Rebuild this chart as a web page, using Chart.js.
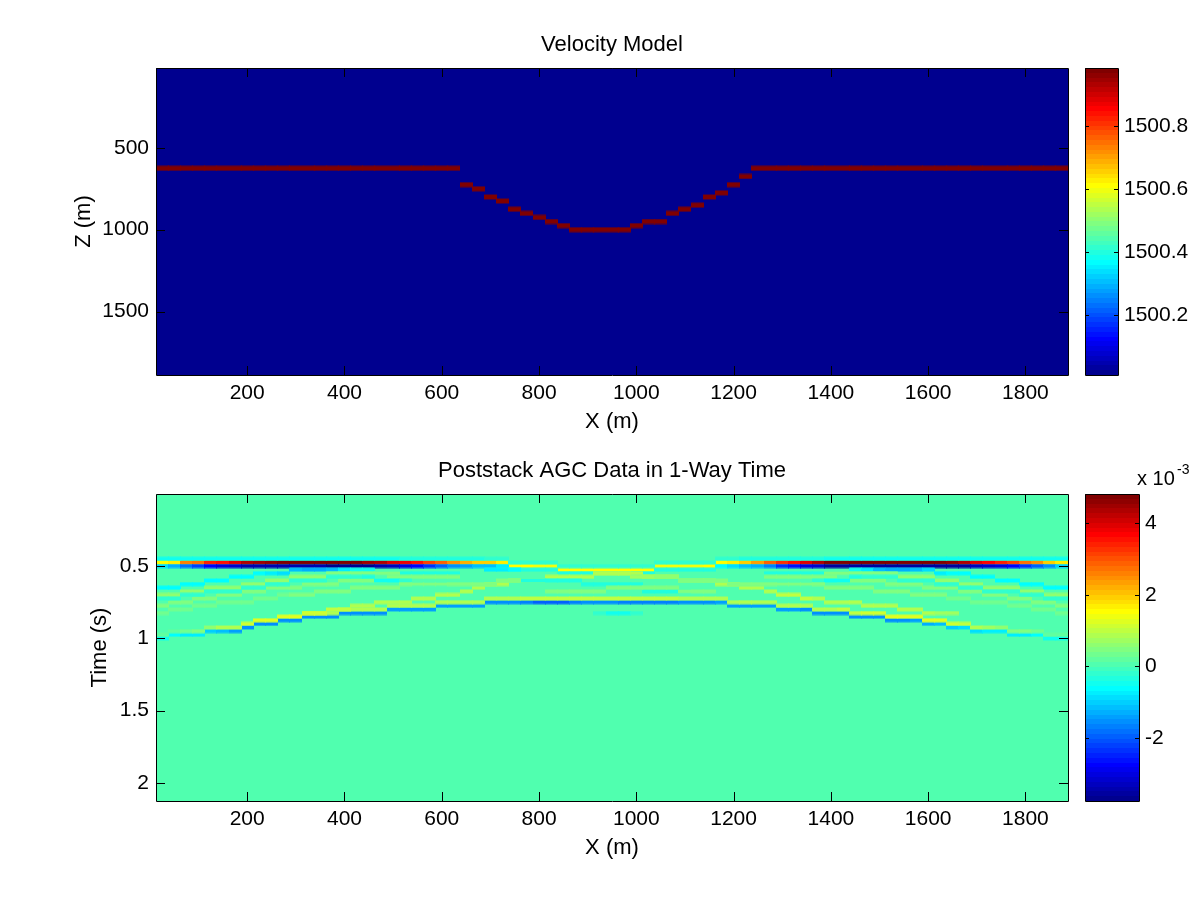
<!DOCTYPE html>
<html>
<head>
<meta charset="utf-8">
<title>Velocity Model</title>
<script src="https://cdn.jsdelivr.net/npm/chart.js@4"></script>
<style>
  body { margin: 0; background: #fff; }
  canvas { position: absolute; }
</style>
</head>
<body>
<canvas id="velChart" style="left:50px;top:20px" width="1030" height="420"></canvas>
<canvas id="velBar" style="left:1080px;top:60px" width="115" height="325"></canvas>
<canvas id="agcChart" style="left:50px;top:446px" width="1030" height="420"></canvas>
<canvas id="agcBar" style="left:1080px;top:460px" width="115" height="350"></canvas>
<script>
// axes
const xRange = [12.5, 1887.5];
const zRange = [12.5, 1887.5];
const tRange = [0.002, 2.125];
const xTicks = [200, 400, 600, 800, 1000, 1200, 1400, 1600, 1800];
const zTicks = [500, 1000, 1500];
const tTicks = [0.5, 1, 1.5, 2];
const velBarRange = [1500.0086, 1500.986];
const velBarTicks = [1500.2, 1500.4, 1500.6, 1500.8];
const agcBarRange = [-3.77, 4.82];
const agcBarTicks = [-2, 0, 2, 4];

// velocity model: reflector depth per grid column (x = 25 m * column)
const reflectorX = [25, 50, 75, 100, 125, 150, 175, 200, 225, 250, 275, 300, 325, 350, 375, 400, 425, 450, 475, 500, 525, 550, 575, 600, 625,
  650, 675, 700, 725, 750, 775, 800, 825, 850, 875, 900, 925, 950, 975, 1000, 1025, 1050, 1075, 1100, 1125, 1150, 1175, 1200, 1225,
  1250, 1275, 1300, 1325, 1350, 1375, 1400, 1425, 1450, 1475, 1500, 1525, 1550, 1575, 1600, 1625, 1650, 1675, 1700, 1725, 1750, 1775, 1800, 1825, 1850, 1875];
const reflectorZ = [625, 625, 625, 625, 625, 625, 625, 625, 625, 625, 625, 625, 625, 625, 625, 625, 625, 625, 625, 625, 625, 625, 625, 625, 625,
  725, 750, 800, 825, 875, 900, 925, 950, 975, 1000, 1000, 1000, 1000, 1000, 975, 950, 950, 900, 875, 850, 800, 775, 725, 675,
  625, 625, 625, 625, 625, 625, 625, 625, 625, 625, 625, 625, 625, 625, 625, 625, 625, 625, 625, 625, 625, 625, 625, 625, 625, 625];
const velBackground = 1500.0086;
const velReflector = 1500.986;

// AGC data: each event is a start column, a time row per column (t = 0.025 s * row) and an amplitude (x 10^-3)
const agcBackground = 0.05;

const directRows = [19, 19, 19, 19, 19, 19, 19, 19, 19, 19, 19, 19, 19, 19, 19, 19, 19, 19, 19, 19, 19, 19, 19, 19, 19, 19, 19, 19, 19,
  20, 20, 20, 20, 21, 21, 21, 21, 21, 21, 21, 21, 20, 20, 20, 20, 20,
  19, 19, 19, 19, 19, 19, 19, 19, 19, 19, 19, 19, 19, 19, 19, 19, 19, 19, 19, 19, 19, 19, 19, 19, 19, 19, 19, 19, 19];
const directAmps = [1.5, 1.7, 2.6, 2.8, 3.4, 3.6, 4.0, 4.3, 4.5, 4.6, 4.7, 4.7, 4.7, 4.7, 4.7, 4.7, 4.7, 4.5, 4.3, 4.0, 3.8, 3.5, 3.2, 2.9, 2.5, 2.2, 2.0, 1.9, 1.7,
  1.5, 1.5, 1.4, 1.4, 1.5, 1.5, 1.5, 1.5, 1.5, 1.5, 1.5, 1.5, 1.4, 1.4, 1.4, 1.4, 1.5,
  1.5, 1.7, 2.0, 2.4, 2.9, 3.3, 3.6, 3.9, 4.3, 4.7, 4.7, 4.7, 4.7, 4.7, 4.7, 4.7, 4.7, 4.7, 4.7, 4.6, 4.3, 4.0, 3.7, 3.4, 3.1, 2.8, 2.5, 2.0, 1.6];

const underRows = [20, 20, 20, 20, 20, 20, 20, 20, 20, 20, 20, 20, 20, 20, 20, 20, 20, 20, 20, 20, 20, 20, 20, 20, 20, 20, 20, 20, 20,
  21, 21, 21, 21, 22, 22, 22, 22, 22, 22, 22, 22, 21, 21, 21, 21, 21,
  20, 20, 20, 20, 20, 20, 20, 20, 20, 20, 20, 20, 20, 20, 20, 20, 20, 20, 20, 20, 20, 20, 20, 20, 20, 20, 20, 20, 20];
const underAmps = [-0.9, -1.3, -1.8, -2.2, -2.8, -3.0, -3.2, -3.5, -3.5, -3.5, -3.5, -3.5, -3.5, -3.5, -3.7, -3.7, -3.7, -3.7, -3.5, -3.3, -3.0, -2.8, -2.4, -2.0, -1.6, -1.4, -1.2, -1.1, -0.8,
  -0.4, -0.4, -0.3, -0.3, -0.3, -0.3, -0.3, -0.3, -0.3, -0.3, -0.3, -0.3, -0.3, -0.3, -0.3, -0.3, -0.4,
  -0.6, -0.9, -1.1, -1.3, -1.7, -2.3, -2.6, -3.0, -3.2, -3.6, -3.6, -3.6, -3.6, -3.6, -3.6, -3.6, -3.6, -3.6, -3.6, -3.6, -3.6, -3.3, -3.2, -3.0, -2.8, -2.4, -2.0, -1.6, -1.0];

const aboveRows = [18, 18, 18, 18, 18, 18, 18, 18, 18, 18, 18, 18, 18, 18, 18, 18, 18, 18, 18, 18, 18, 18, 18, 18, 18, 18, 18, 18, 18,
  19, 19, 19, 19, 20, 20, 20, 20, 20, 20, 20, 20, 19, 19, 19, 19, 19,
  18, 18, 18, 18, 18, 18, 18, 18, 18, 18, 18, 18, 18, 18, 18, 18, 18, 18, 18, 18, 18, 18, 18, 18, 18, 18, 18, 18, 18];
const aboveAmps = [-0.45, -0.45, -0.45, -0.45, -0.45, -0.45, -0.45, -0.45, -0.45, -0.45, -0.45, -0.45, -0.45, -0.45, -0.45, -0.45, -0.45, -0.45, -0.45, -0.45, -0.4, -0.4, -0.4, -0.35, -0.35, -0.3, -0.3, -0.25, -0.25,
  -0.2, -0.2, -0.2, -0.2, -0.2, -0.2, -0.2, -0.2, -0.2, -0.2, -0.2, -0.2, -0.2, -0.2, -0.2, -0.2, -0.2,
  -0.25, -0.25, -0.3, -0.3, -0.35, -0.35, -0.4, -0.4, -0.4, -0.45, -0.45, -0.45, -0.45, -0.45, -0.45, -0.45, -0.45, -0.45, -0.45, -0.45, -0.45, -0.45, -0.45, -0.45, -0.45, -0.45, -0.45, -0.45, -0.45];

const mainRows = [40, 39, 39, 39, 38, 38, 38, 37, 36, 36, 35, 35, 34, 34, 34, 33, 33, 33, 33, 32, 32, 32, 32, 31, 31, 31, 31, 30, 30, 30,
  30, 30, 30, 30, 30, 30, 30, 30, 30, 30, 30, 30, 30, 30, 30, 30, 30, 31, 31, 31, 31, 32, 32, 32, 33, 33, 33, 34, 34, 34,
  35, 35, 35, 36, 36, 37, 37, 38, 38, 38, 39, 39, 39, 40, 40];
const mainAmps = [-0.5, -0.6, -0.7, -0.8, -1.0, -1.2, -1.4, -1.5, -1.5, -1.5, -1.5, -1.5, -1.5, -1.5, -1.5, -1.5, -1.5, -1.5, -1.5, -1.4, -1.4, -1.4, -1.4, -1.4, -1.4, -1.4, -1.4, -1.5, -1.5, -1.6,
  -1.7, -2.0, -2.0, -2.0, -1.7, -1.6, -1.6, -1.6, -1.7, -1.7, -1.7, -1.7, -1.7, -1.5, -1.5, -1.5, -1.4, -1.4, -1.4, -1.4, -1.4, -1.4, -1.4, -1.5, -1.5, -1.5, -1.5, -1.5, -1.5, -1.5,
  -1.5, -1.5, -1.4, -1.3, -1.2, -1.0, -0.9, -0.9, -0.8, -0.8, -0.7, -0.7, -0.6, -0.5, -0.5];

const mainUpperRows = [39, 38, 38, 38, 37, 37, 37, 36, 35, 35, 34, 34, 33, 33, 33, 32, 32, 32, 32, 31, 31, 31, 31, 30, 30, 30, 30, 29, 29, 29,
  29, 29, 29, 29, 29, 29, 29, 29, 29, 29, 29, 29, 29, 29, 29, 29, 29, 30, 30, 30, 30, 31, 31, 31, 32, 32, 32, 33, 33, 33,
  34, 34, 34, 35, 35, 36, 36, 37, 37, 37, 38, 38, 38, 39, 39];
const mainUpperAmps = [0.2, 0.2, 0.3, 0.4, 0.6, 0.8, 0.9, 1.1, 1.2, 1.3, 1.3, 1.3, 1.2, 1.1, 0.9, 0.8, 0.8, 0.8, 0.8, 0.8, 0.8, 0.8, 0.8, 0.8, 0.8, 0.8, 0.8, 0.8, 0.8, 0.9,
  1.0, 1.0, 1.0, 1.0, 1.0, 1.0, 1.0, 1.0, 1.0, 1.0, 1.0, 1.0, 1.0, 0.9, 0.8, 0.8, 0.8, 0.8, 0.8, 0.8, 0.8, 0.8, 0.8, 0.8, 0.9, 0.9, 1.0, 1.0, 1.1, 1.1,
  1.2, 1.2, 1.3, 1.2, 1.2, 1.1, 1.0, 0.8, 0.7, 0.6, 0.5, 0.4, 0.3, 0.2, 0.2];

const riseLeftStart = 13;
const riseLeftRows = [33, 33, 32, 32, 31, 31, 30, 30, 30, 29, 29, 28, 28, 27, 26, 25, 25, 24, 24, 24, 23, 23, 23, 23, 22, 22, 22, 23, 23, 23, 23, 24, 24];
const riseLeftAmps = [1.1, 1.1, 1.0, 1.0, 0.9, 0.9, 0.9, 0.9, 0.9, 0.9, 0.9, 0.9, 0.9, 0.8, 0.8, 0.8, 0.8, 0.8, 0.8, 0.8, 0.8, 0.9, 0.9, 0.9, 0.9, 0.9, 0.8, 0.7, 0.7, 0.6, 0.6, 0.5, 0.5];
const riseRightStart = 37;
const riseRightRows = [22, 22, 22, 22, 23, 23, 23, 24, 24, 24, 25, 25, 26, 26, 27, 28, 28, 29, 29, 30, 30, 30, 31, 31, 31, 32, 32, 33, 33, 33];
const riseRightAmps = [0.8, 0.8, 0.8, 0.8, 0.9, 0.9, 0.9, 0.9, 0.9, 0.9, 0.8, 0.8, 0.8, 0.8, 0.9, 1.0, 1.0, 1.0, 0.9, 0.9, 0.8, 0.8, 0.8, 0.8, 0.8, 0.8, 0.8, 0.8, 0.7, 0.7];

const cyanLeftStart = 1;
const cyanLeftRows = [26, 26, 25, 25, 24, 24, 23, 23, 22, 22, 22, 21, 21, 21, 21, 21, 21, 21, 22, 22, 22, 22, 22, 22, 22];
const cyanLeftAmps = [-0.6, -0.6, -0.6, -0.6, -0.6, -0.6, -0.6, -0.6, -0.6, -0.7, -0.9, -1.2, -1.3, -1.3, -1.2, -0.7, -0.5, -0.45, -0.45, -0.4, -0.4, -0.4, -0.3, -0.3, -0.3];
const cyanRightStart = 51;
const cyanRightRows = [22, 22, 22, 22, 22, 22, 22, 21, 21, 21, 21, 21, 21, 21, 22, 22, 22, 23, 23, 24, 24, 25, 25, 26, 26];
const cyanRightAmps = [-0.3, -0.3, -0.3, -0.4, -0.4, -0.45, -0.45, -0.5, -0.7, -1.2, -1.3, -1.3, -1.2, -0.9, -0.7, -0.6, -0.6, -0.6, -0.6, -0.6, -0.6, -0.6, -0.6, -0.6, -0.6];

const bandBLeftRows = [28, 28, 27, 27, 26, 26, 26, 25, 25, 24, 24, 23, 23, 23, 22, 22, 22, 22, 22, 22];
const bandBLeftAmps = [0.6, 0.6, 0.6, 0.6, 0.6, 0.6, 0.6, 0.6, 0.6, 0.6, 0.6, 0.6, 0.6, 0.6, 0.5, 0.5, 0.5, 0.5, 0.4, 0.4];
const bandBRightStart = 56;
const bandBRightRows = [22, 22, 22, 22, 22, 22, 23, 23, 23, 24, 24, 25, 25, 26, 26, 26, 27, 27, 28, 28];
const bandBRightAmps = [0.4, 0.4, 0.5, 0.5, 0.5, 0.5, 0.6, 0.6, 0.6, 0.6, 0.6, 0.6, 0.6, 0.6, 0.6, 0.6, 0.6, 0.6, 0.6, 0.6];

const bandCLeftRows = [31, 30, 30, 29, 29, 28, 28, 27, 27, 26, 26, 26, 25, 25, 25, 24, 24, 24, 24, 23, 23, 23, 23, 23, 23];
const bandCLeftAmps = [0.5, 0.5, 0.5, 0.5, 0.5, 0.5, 0.5, 0.5, 0.5, 0.5, 0.5, 0.5, 0.5, 0.5, 0.5, 0.5, 0.5, 0.5, 0.5, 0.4, 0.4, 0.4, 0.4, 0.4, 0.4];
const bandCRightStart = 51;
const bandCRightRows = [23, 23, 23, 23, 23, 23, 24, 24, 24, 24, 25, 25, 25, 26, 26, 26, 27, 27, 28, 28, 29, 29, 30, 30, 31];
const bandCRightAmps = [0.4, 0.4, 0.4, 0.4, 0.4, 0.4, 0.5, 0.5, 0.5, 0.5, 0.5, 0.5, 0.5, 0.5, 0.5, 0.5, 0.5, 0.5, 0.5, 0.5, 0.5, 0.5, 0.5, 0.5, 0.5];

const bandDLeftRows = [33, 32, 32, 31, 31, 30, 30, 30, 29, 29, 28, 28, 28, 27, 27, 27, 26, 26, 26, 26, 25, 25, 25, 25, 25, 25, 25, 25, 24, 24];
const bandDLeftAmps = [0.3, 0.3, 0.3, 0.3, 0.3, 0.3, 0.3, 0.3, 0.3, 0.3, 0.3, 0.4, 0.4, 0.4, 0.5, 0.5, 0.5, 0.5, 0.5, 0.5, 0.5, 0.4, 0.4, 0.4, 0.4, 0.4, 0.4, 0.4, 0.4, 0.4];
const bandDRightStart = 46;
const bandDRightRows = [24, 24, 25, 25, 25, 25, 25, 25, 25, 25, 26, 26, 26, 26, 27, 27, 27, 28, 28, 28, 29, 29, 30, 30, 30, 31, 31, 32, 32, 33];
const bandDRightAmps = [0.4, 0.4, 0.4, 0.4, 0.4, 0.4, 0.4, 0.4, 0.4, 0.4, 0.5, 0.5, 0.5, 0.5, 0.5, 0.5, 0.5, 0.4, 0.4, 0.4, 0.3, 0.3, 0.3, 0.3, 0.3, 0.3, 0.3, 0.3, 0.3, 0.3];

const faintCyanLeftRows = [29, 29, 28, 28, 27, 27, 27, 26, 26, 25, 25, 24, 24, 24, 23, 23, 23, 23, 24, 24, 24, 25, 25, 25];
const faintCyanLeftAmps = [-0.25, -0.25, -0.25, -0.25, -0.25, -0.25, -0.2, -0.2, -0.2, -0.2, -0.2, -0.2, -0.2, -0.2, -0.2, -0.2, -0.25, -0.3, -0.5, -0.5, -0.25, -0.5, -0.5, -0.5];
const faintCyanRightStart = 52;
const faintCyanRightRows = [25, 25, 25, 24, 24, 24, 23, 23, 23, 23, 24, 24, 24, 25, 25, 26, 26, 27, 27, 27, 28, 28, 29, 29];
const faintCyanRightAmps = [-0.5, -0.5, -0.5, -0.25, -0.5, -0.5, -0.3, -0.25, -0.2, -0.2, -0.2, -0.2, -0.2, -0.2, -0.2, -0.2, -0.2, -0.2, -0.25, -0.25, -0.25, -0.25, -0.25, -0.25];

const centerStart = 28;
const centerBlueRows = [21, 21, 21, 24, 24, 24, 24, 24, 25, 25, 25, 25, 25, 27, 27, 27, 27];
const centerBlueAmps = [-0.8, -0.7, -0.6, -0.3, -0.3, -0.4, -0.4, -0.4, -0.3, -0.3, -0.3, -0.3, -0.3, -0.3, -0.3, -0.3, -0.3];
const centerYellowStart = 33;
const centerYellowRows = [27, 27, 27, 27, 27, 26, 26, 26, 26, 26, 26, 27, 27, 27];
const centerYellowAmps = [0.5, 0.5, 0.5, 0.5, 0.5, 0.4, 0.4, 0.4, 0.4, 0.4, 0.4, 0.5, 0.5, 0.5];
const lowerCyanStart = 37;
const lowerCyanRows = [33, 33, 33, 33];
const lowerCyanAmps = [-0.2, -0.5, -0.5, -0.2];

// jet colour map, 64 levels like the original figure
function jetChannel(v) { return Math.round(255 * Math.max(0, Math.min(1, v))); }
function jetLevel(level) {
  const v = (level + 1) / 64;
  return 'rgb(' + jetChannel(Math.min(4 * v - 1.5, -4 * v + 4.5)) + ',' +
    jetChannel(Math.min(4 * v - 0.5, -4 * v + 3.5)) + ',' +
    jetChannel(Math.min(4 * v + 0.5, -4 * v + 2.5)) + ')';
}
function jetColor(value, range) {
  const f = (value - range[0]) / (range[1] - range[0]);
  return jetLevel(Math.max(0, Math.min(63, Math.floor(f * 64))));
}

// one small canvas per colour, used as the point image of a grid cell.
// the outer rows are half transparent so cells blend a bit, as in the jpeg original
const cellCache = {};
function cellImage(color, w, h) {
  const key = color + w + 'x' + h;
  if (!cellCache[key]) {
    const c = document.createElement('canvas');
    c.width = w;
    c.height = h;
    const g = c.getContext('2d');
    g.fillStyle = color;
    g.globalAlpha = 0.45;
    g.fillRect(0, 0, w, h);
    g.globalAlpha = 1;
    g.fillRect(0, 1, w, h - 2);
    cellCache[key] = c;
  }
  return cellCache[key];
}

function cellDataset(points, range, w, h) {
  return {
    data: points,
    showLine: false,
    pointRadius: 6,
    pointHoverRadius: 6,
    pointBorderWidth: 0,
    pointStyle: ctx => cellImage(jetColor(ctx.raw ? ctx.raw.v : range[0], range), w, h)
  };
}

function eventDataset(start, rows, amps) {
  const points = rows.map((row, i) => ({ x: 25 * (start + i), y: 0.025 * row, v: amps[i] }));
  return cellDataset(points, agcBarRange, 13, 5);
}

// panel fill, box and inward ticks like the original
const panelPlugin = {
  id: 'panel',
  beforeDatasetsDraw(chart, args, opts) {
    const a = chart.chartArea;
    if (opts.fill) {
      chart.ctx.fillStyle = opts.fill;
      chart.ctx.fillRect(a.left, a.top, a.right - a.left, a.bottom - a.top);
    }
  },
  afterDraw(chart, args, opts) {
    const a = chart.chartArea;
    const c = chart.ctx;
    const len = opts.tickLength;
    c.save();
    c.strokeStyle = '#000';
    c.lineWidth = 1;
    c.beginPath();
    Object.values(chart.scales).forEach(s => {
      if (!s.options.display) return;
      s.ticks.forEach(t => {
        const p = Math.round(s.getPixelForValue(t.value)) + 0.5;
        if (s.isHorizontal()) {
          c.moveTo(p, a.bottom); c.lineTo(p, a.bottom - len);
          c.moveTo(p, a.top); c.lineTo(p, a.top + len);
        } else {
          c.moveTo(a.left, p); c.lineTo(a.left + len, p);
          c.moveTo(a.right, p); c.lineTo(a.right - len, p);
        }
      });
    });
    c.rect(a.left + 0.5, a.top + 0.5, a.right - a.left, a.bottom - a.top);
    c.stroke();
    if (opts.exponent) {
      c.fillStyle = '#000';
      c.textAlign = 'left';
      c.textBaseline = 'alphabetic';
      c.font = '20px "Liberation Sans"';
      c.fillText('x 10', 57, 25);
      c.font = '14px "Liberation Sans"';
      c.fillText('-3', 97, 14);
    }
    c.restore();
  }
};
Chart.register(panelPlugin);

const tickFont = { family: 'Liberation Sans', size: 21 };
const titleFont = { family: 'Liberation Sans', size: 22, weight: 'normal' };
Chart.defaults.color = '#000';
Chart.defaults.animation = false;

function fixedTicks(values) {
  return scale => { scale.ticks = values.map(v => ({ value: v, label: String(v) })); };
}

function heatChart(id, title, yTitle, yRange, yTicks, yTitlePad, datasets, fill) {
  return new Chart(document.getElementById(id), {
    type: 'scatter',
    data: { datasets: datasets },
    options: {
      responsive: false,
      events: [],
      layout: { padding: { top: 0, right: 12, bottom: 0, left: 0 } },
      plugins: {
        legend: { display: false },
        tooltip: { enabled: false },
        title: { display: true, fullSize: false, text: title, font: titleFont, padding: { top: 11.8, bottom: 9.8 } },
        panel: { fill: fill, tickLength: 9 }
      },
      scales: {
        x: {
          type: 'linear', min: xRange[0], max: xRange[1],
          grid: { display: false, drawTicks: false }, border: { display: false },
          ticks: { font: tickFont, padding: 6, maxRotation: 0, autoSkip: false, includeBounds: false, callback: v => String(v) },
          afterBuildTicks: fixedTicks(xTicks),
          afterFit: s => { s.height = 65; s.paddingLeft = 0; s.paddingRight = 0; },
          title: { display: true, text: 'X (m)', font: titleFont, padding: { top: 0, bottom: 5 } }
        },
        y: {
          type: 'linear', reverse: true, min: yRange[0], max: yRange[1],
          grid: { display: false, drawTicks: false }, border: { display: false },
          ticks: { font: tickFont, padding: 7, autoSkip: false, includeBounds: false, callback: v => String(v) },
          afterBuildTicks: fixedTicks(yTicks),
          afterFit: s => { s.width = 106; s.paddingTop = 0; s.paddingBottom = 0; },
          title: { display: true, text: yTitle, font: titleFont, padding: { top: yTitlePad, bottom: 0 } }
        }
      }
    }
  });
}

function barChart(id, range, ticks, padTop, padBottom, barWidth, exponent) {
  return new Chart(document.getElementById(id), {
    type: 'bar',
    data: {
      labels: [''],
      datasets: [{
        data: [range],
        barPercentage: 1,
        categoryPercentage: 1,
        backgroundColor: ctx => {
          const a = ctx.chart.chartArea;
          if (!a) return '#000';
          const g = ctx.chart.ctx.createLinearGradient(0, a.bottom, 0, a.top);
          for (let i = 0; i < 64; i++) {
            g.addColorStop(i / 64, jetLevel(i));
            g.addColorStop((i + 1) / 64, jetLevel(i));
          }
          return g;
        }
      }]
    },
    options: {
      responsive: false,
      events: [],
      layout: { padding: { top: padTop, right: 0, bottom: padBottom, left: 5 } },
      plugins: {
        legend: { display: false },
        title: { display: false },
        tooltip: { enabled: false },
        panel: { tickLength: 4, exponent: exponent }
      },
      scales: {
        x: { display: false },
        y: {
          position: 'right', min: range[0], max: range[1],
          grid: { display: false, drawTicks: false }, border: { display: false },
          ticks: { font: tickFont, padding: 6, autoSkip: false, includeBounds: false, callback: v => String(v) },
          afterBuildTicks: fixedTicks(ticks),
          afterFit: s => { s.width = 115 - 5 - barWidth; s.paddingTop = 0; s.paddingBottom = 0; }
        }
      }
    }
  });
}

const reflectorPoints = reflectorX.map((x, i) => ({ x: x, y: reflectorZ[i], v: velReflector }));
heatChart('velChart', 'Velocity Model', 'Z (m)', zRange, zTicks, 21,
  [cellDataset(reflectorPoints, velBarRange, 13, 6)], jetColor(velBackground, velBarRange));

// later datasets paint over earlier ones, so faint events go first
heatChart('agcChart', 'Poststack AGC Data in 1-Way Time', 'Time (s)', tRange, tTicks, 37, [
  eventDataset(1, bandDLeftRows, bandDLeftAmps),
  eventDataset(bandDRightStart, bandDRightRows, bandDRightAmps),
  eventDataset(1, faintCyanLeftRows, faintCyanLeftAmps),
  eventDataset(faintCyanRightStart, faintCyanRightRows, faintCyanRightAmps),
  eventDataset(1, bandCLeftRows, bandCLeftAmps),
  eventDataset(bandCRightStart, bandCRightRows, bandCRightAmps),
  eventDataset(1, bandBLeftRows, bandBLeftAmps),
  eventDataset(bandBRightStart, bandBRightRows, bandBRightAmps),
  eventDataset(centerYellowStart, centerYellowRows, centerYellowAmps),
  eventDataset(centerStart, centerBlueRows, centerBlueAmps),
  eventDataset(lowerCyanStart, lowerCyanRows, lowerCyanAmps),
  eventDataset(cyanLeftStart, cyanLeftRows, cyanLeftAmps),
  eventDataset(cyanRightStart, cyanRightRows, cyanRightAmps),
  eventDataset(riseLeftStart, riseLeftRows, riseLeftAmps),
  eventDataset(riseRightStart, riseRightRows, riseRightAmps),
  eventDataset(1, mainUpperRows, mainUpperAmps),
  eventDataset(1, mainRows, mainAmps),
  eventDataset(1, aboveRows, aboveAmps),
  eventDataset(1, underRows, underAmps),
  eventDataset(1, directRows, directAmps)
], jetColor(agcBackground, agcBarRange));

barChart('velBar', velBarRange, velBarTicks, 8, 10, 33, false);
barChart('agcBar', agcBarRange, agcBarTicks, 34, 9, 54, true);
</script>
</body>
</html>
